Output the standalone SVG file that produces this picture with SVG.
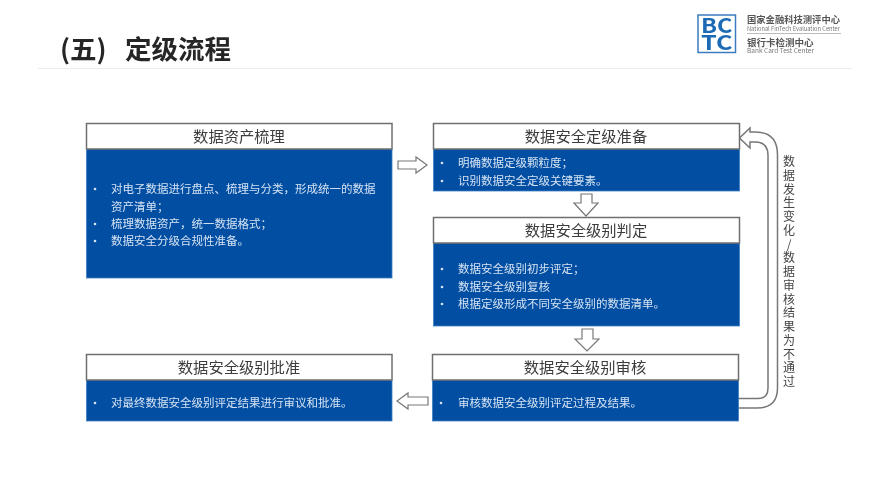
<svg xmlns="http://www.w3.org/2000/svg" width="888" height="489" viewBox="0 0 888 489">
<style>
text{font-family:"Noto Sans CJK SC","Liberation Sans",sans-serif}
.hd{fill:#fff;stroke:#6f6f6f;stroke-width:1.5}
.bd{fill:#024ea2;stroke:#3f7fc4;stroke-width:.8}
.ht{font-size:15.3px;fill:#3c3c3c;text-anchor:middle}
.bt{font-size:11.5px;fill:#d5e3f3}
.ar{fill:#fff;stroke:#777;stroke-width:1.2;stroke-linejoin:miter}
.ln{fill:none;stroke:#777;stroke-width:1.5}
.vt{font-size:12px;fill:#444;text-anchor:middle}
.dot{fill:#d5e3f3}
.soft{filter:url(#soft)}
</style>
<defs>
<filter id="soft" x="-5%" y="-5%" width="110%" height="110%"><feGaussianBlur stdDeviation="0.35"/></filter>
</defs>
<rect width="888" height="489" fill="#fff"/>
<g id="title" class="soft">
<text y="59" font-size="26.5" font-weight="700" fill="#262626"><tspan x="60">(五)</tspan><tspan x="125">定级流程</tspan></text>
<line x1="38" y1="68.500" x2="852" y2="68.500" stroke="#ececec" stroke-width="1"/>
</g>
<g id="logo" class="soft">
<rect x="698" y="15" width="37.500" height="37.500" fill="#fff" stroke="#3a7cc0" stroke-width="1.500"/>
<text x="701" y="33" font-family="Liberation Sans" font-size="20.500" font-weight="700" fill="#1a6ab5" textLength="31.500" lengthAdjust="spacingAndGlyphs">BC</text>
<text x="701" y="50" font-family="Liberation Sans" font-size="20.500" font-weight="700" fill="#1a6ab5" textLength="31.500" lengthAdjust="spacingAndGlyphs">TC</text>
<text x="747" y="23" font-size="9.300" font-weight="700" fill="#555">国家金融科技测评中心</text>
<text x="747" y="31" font-family="Liberation Sans" font-size="6.200" fill="#777" textLength="93" lengthAdjust="spacingAndGlyphs">National FinTech Evaluation Center</text>
<line x1="747" y1="33.500" x2="841" y2="33.500" stroke="#aaa" stroke-width=".8"/>
<text x="747" y="45.500" font-size="9.500" font-weight="700" fill="#555">银行卡检测中心</text>
<text x="747" y="52.500" font-family="Liberation Sans" font-size="6.500" fill="#777" textLength="67" lengthAdjust="spacingAndGlyphs">Bank Card Test Center</text>
</g>
<g id="connectors" class="soft">
<polygon class="ar" points="398,161 416,161 416,157 427,165 416,173 416,169 398,169"/>
<polygon class="ar" points="581,194 592,194 592,203 598,203 586,216 574,203 581,203"/>
<polygon class="ar" points="582,329 593,329 593,339 599,339 587,351 575,339 582,339"/>
<polygon class="ar" points="428,397 408,397 408,393 397,401 408,409 408,405 428,405"/>
<path class="ln" d="M738,398.500H758Q768,398.500 768,388V155Q768,142 755,142H750V148L739.500,138L750,128V132H755Q777.500,132 777.500,155V388Q777.500,408 757,408H738"/>
</g>
<g id="node-asset">
<rect class="bd" x="86.500" y="149" width="305.500" height="129"/>
<rect class="hd" x="86.500" y="123.500" width="305.500" height="25.500"/>
<g class="soft">
<text class="ht" x="239" y="141.500">数据资产梳理</text>
<text class="bt" x="111" y="193">对电子数据进行盘点、梳理与分类，形成统一的数据</text>
<text class="bt" x="111" y="211">资产清单；</text>
<text class="bt" x="111" y="228">梳理数据资产，统一数据格式；</text>
<text class="bt" x="111" y="245">数据安全分级合规性准备。</text>
<circle class="dot" cx="95" cy="189" r="1.300"/><circle class="dot" cx="95" cy="224" r="1.300"/><circle class="dot" cx="95" cy="241" r="1.300"/>
</g>
</g>
<g id="node-prepare">
<rect class="bd" x="433.500" y="149" width="306" height="42"/>
<rect class="hd" x="433.500" y="123.500" width="306" height="25.500"/>
<g class="soft">
<text class="ht" x="586" y="141.500">数据安全定级准备</text>
<text class="bt" x="458" y="167">明确数据定级颗粒度；</text>
<text class="bt" x="458" y="185">识别数据安全定级关键要素。</text>
<circle class="dot" cx="442" cy="163" r="1.300"/><circle class="dot" cx="442" cy="181" r="1.300"/>
</g>
</g>
<g id="node-judge">
<rect class="bd" x="433.500" y="243" width="306" height="83"/>
<rect class="hd" x="433.500" y="217.500" width="306" height="25.500"/>
<g class="soft">
<text class="ht" x="586" y="236">数据安全级别判定</text>
<text class="bt" x="458" y="273">数据安全级别初步评定；</text>
<text class="bt" x="458" y="291">数据安全级别复核</text>
<text class="bt" x="458" y="308">根据定级形成不同安全级别的数据清单。</text>
<circle class="dot" cx="442" cy="269" r="1.300"/><circle class="dot" cx="442" cy="287" r="1.300"/><circle class="dot" cx="442" cy="304" r="1.300"/>
</g>
</g>
<g id="node-review">
<rect class="bd" x="432.500" y="380" width="306" height="41"/>
<rect class="hd" x="432.500" y="354.500" width="306" height="25.500"/>
<g class="soft">
<text class="ht" x="585" y="373">数据安全级别审核</text>
<text class="bt" x="458" y="407">审核数据安全级别评定过程及结果。</text>
<circle class="dot" cx="441" cy="403" r="1.300"/>
</g>
</g>
<g id="node-approve">
<rect class="bd" x="86.500" y="380" width="305.500" height="41"/>
<rect class="hd" x="86.500" y="354.500" width="305.500" height="25.500"/>
<g class="soft">
<text class="ht" x="239" y="373">数据安全级别批准</text>
<text class="bt" x="111" y="407">对最终数据安全级别评定结果进行审议和批准。</text>
<circle class="dot" cx="95" cy="403" r="1.300"/>
</g>
</g>
<g id="loop-label" class="soft">
<text class="vt" x="789 789 789 789 789 789 789 789 789 789 789 789 789 789 789 789 789" y="166 180 193.500 207 221 235 249 262 276 290 304 317 331 345 359 372 386">数据发生变化/数据审核结果为不通过</text>
</g>
</svg>
